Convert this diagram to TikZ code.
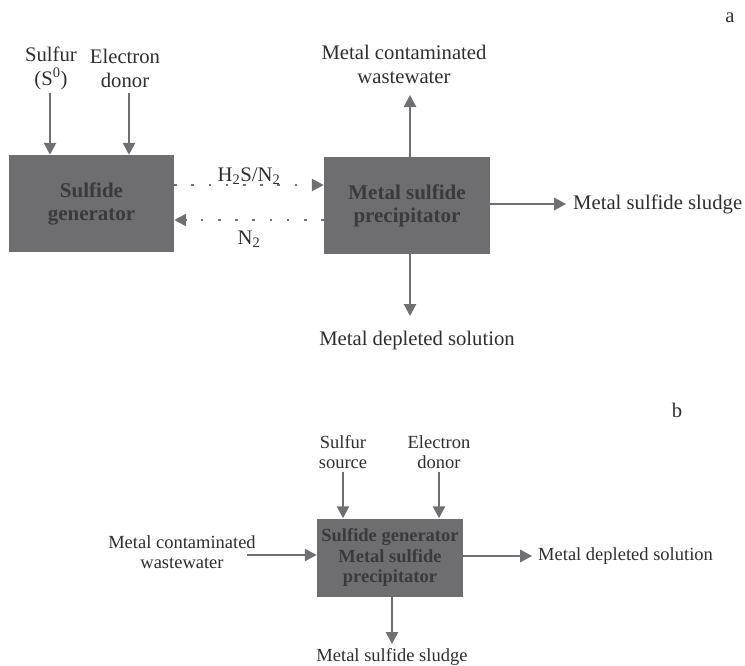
\documentclass[tikz,border=0pt]{standalone}
\usepackage{fontspec}
\setmainfont{Liberation Serif}
\usetikzlibrary{arrows.meta}
\definecolor{boxgray}{HTML}{6E6E71}
\definecolor{linegray}{HTML}{707074}
\definecolor{txt}{HTML}{2E2E2E}
\definecolor{boxtxt}{HTML}{3A3A3C}
\begin{document}
\begin{tikzpicture}[x=1pt,y=-1pt,
  box/.style={draw=none,fill=boxgray,text=boxtxt,font=\fontsize{21}{23}\selectfont\bfseries,align=center,inner sep=0pt},
  lbl/.style={text=txt,font=\fontsize{20.7}{24}\selectfont,align=center,inner sep=0pt},
  lblb/.style={text=txt,font=\fontsize{18.5}{19.5}\selectfont,align=center,inner sep=0pt},
  flow/.style={draw=linegray,line width=2.6pt,-{Triangle[length=12pt,width=12pt]}},
  dotflow/.style={draw=linegray,line width=2.6pt,dash pattern=on 2.6pt off 14.6pt,-{Triangle[length=12pt,width=12pt]}}
]
\useasboundingbox (0,0) rectangle (745,665);
% ---------- part a ----------
\node[lbl] (la) at (730,18) {a};
\node[box,minimum width=165pt,minimum height=97pt] (A) at (91.5,203.5) {Sulfide\\generator};
\node[box,minimum width=166pt,minimum height=97pt] (B) at (407,205.5) {Metal sulfide\\precipitator};
\node[lbl] (sulf) at (51,68) {Sulfur\\(S\textsuperscript{0})};
\node[lbl] (edon) at (125,68) {Electron\\donor};
\coordinate (s1) at (50,93);
\coordinate (e1) at (129,93);
\draw[flow] (s1) -- (s1 |- A.north);
\draw[flow] (e1) -- (e1 |- A.north);
\coordinate (h1) at (0,185);
\coordinate (h2) at (0,220);
\draw[dotflow] (A.east |- h1) -- (B.west |- h1);
\draw[dotflow] (B.west |- h2) -- (A.east |- h2);
\node[lbl] (h2s) at (249,176) {H\textsubscript{2}S/N\textsubscript{2}};
\node[lbl] (n2) at (249,239) {N\textsubscript{2}};
\node[lbl] (mcw) at (404,64) {Metal contaminated\\wastewater};
\coordinate (up1) at (410,95);
\draw[flow] (B.north -| up1) -- (up1);
\node[lbl,anchor=west] (mss) at (573,204) {Metal sulfide sludge};
\draw[flow] (B.east |- mss.west) -- ++(76,0);
\coordinate (dn1) at (410,316);
\draw[flow] (B.south -| dn1) -- (dn1);
\node[lbl] (mds) at (417,341) {Metal depleted solution};
% ---------- part b ----------
\node[lbl] (lb) at (677,410) {b};
\node[box,font=\fontsize{18.5}{20.5}\selectfont\bfseries,minimum width=146pt,minimum height=78pt] (C) at (390,557.5) {Sulfide generator\\Metal sulfide\\precipitator};
\node[lblb] (ss) at (343,452) {Sulfur\\source};
\node[lblb] (ed) at (439,452) {Electron\\donor};
\coordinate (s2) at (343,472);
\coordinate (e2) at (439,472);
\draw[flow] (s2) -- (s2 |- C.north);
\draw[flow] (e2) -- (e2 |- C.north);
\node[lblb] (mcw2) at (182,552) {Metal contaminated\\wastewater};
\coordinate (l2) at (247,555);
\draw[flow] (l2) -- (C.west |- l2);
\node[lblb,anchor=west] (mds2) at (538,556) {Metal depleted solution};
\draw[flow] (C.east |- mds2.west) -- ++(69,0);
\coordinate (d2) at (392,644);
\draw[flow] (C.south -| d2) -- (d2);
\node[lblb] (mss2) at (392,657) {Metal sulfide sludge};
\end{tikzpicture}
\end{document}
